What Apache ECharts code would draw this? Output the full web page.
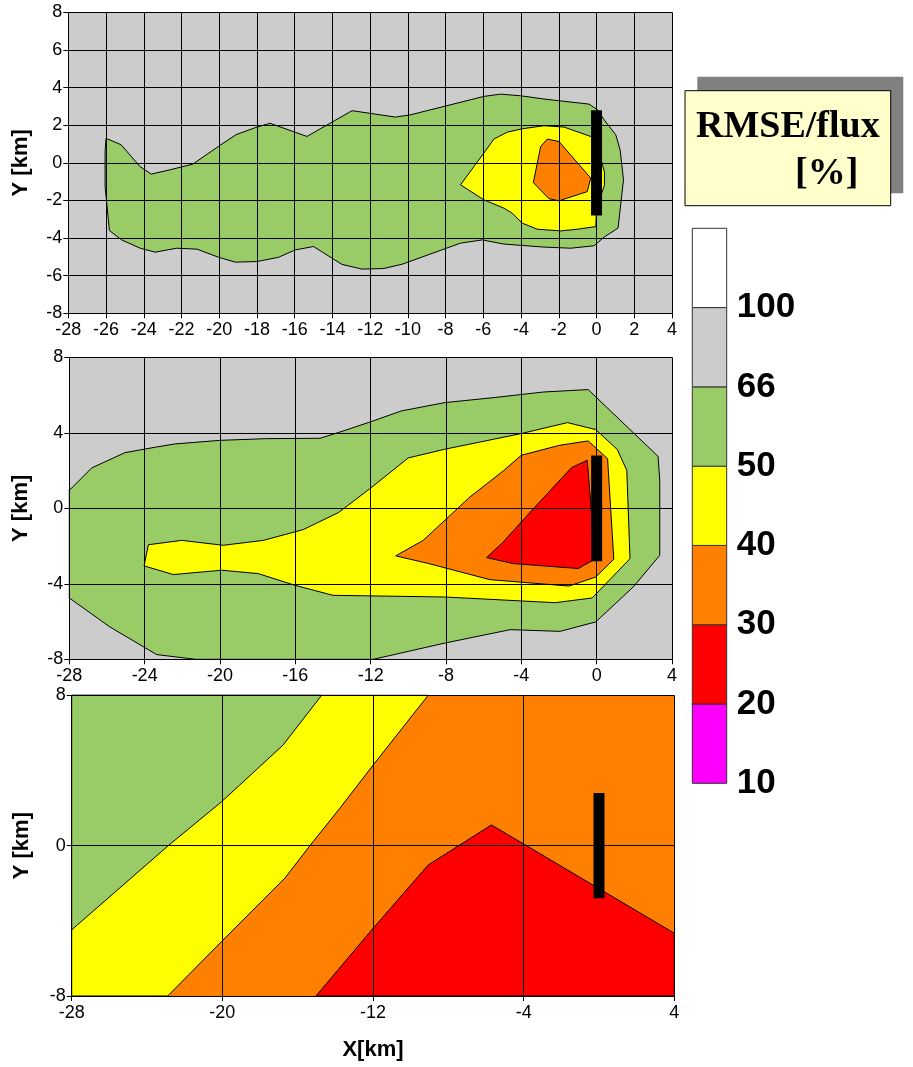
<!DOCTYPE html>
<html>
<head>
<meta charset="utf-8">
<script src="https://cdn.jsdelivr.net/npm/echarts@6/dist/echarts.min.js"></script>
<style>
html,body{margin:0;padding:0;background:#fff;}
#chart{width:913px;height:1067px;}
</style>
</head>
<body>
<div id="chart"></div>
<script>
// ---------- DATA ----------
// Panel 1 contour polygons (x km, y km)
const p1Green = [[-26.0,1.3],[-25.2,0.96],[-24.2,-0.2],[-23.6,-0.6],[-22.6,-0.37],[-21.4,-0.07],[-20.0,0.9],[-19.1,1.5],[-18.0,1.9],[-17.3,2.1],[-15.35,1.4],[-12.96,2.77],[-10.66,2.43],[-9.86,2.55],[-5.97,3.53],[-5.09,3.65],[-4.0,3.56],[-2.79,3.39],[-0.4,3.12],[0.05,2.82],[0.4,2.29],[1.02,1.49],[1.25,0.69],[1.43,-0.9],[1.14,-3.47],[0.4,-3.95],[-0.13,-4.41],[-1.37,-4.54],[-2.79,-4.48],[-4.91,-4.32],[-6.06,-4.1],[-7.21,-4.27],[-10.3,-5.39],[-11.28,-5.62],[-12.43,-5.65],[-13.5,-5.4],[-15.0,-4.45],[-15.97,-4.63],[-16.85,-5.02],[-18.0,-5.25],[-19.15,-5.28],[-20.04,-5.02],[-21.18,-4.59],[-22.25,-4.54],[-23.4,-4.75],[-24.19,-4.54],[-25.17,-4.1],[-25.82,-3.6],[-26.05,-1.26],[-26.05,0.6]];
const p1Yellow = [[-7.21,-1.17],[-6.5,-0.2],[-5.97,0.52],[-5.44,1.26],[-4.73,1.63],[-3.93,1.81],[-2.79,1.97],[-1.73,1.9],[-0.31,1.4],[0.05,0.9],[0.42,-0.5],[0.42,-1.2],[0.0,-2.4],[-0.04,-3.39],[-1.02,-3.53],[-1.9,-3.62],[-3.14,-3.53],[-3.93,-3.21],[-4.47,-2.68],[-4.91,-2.41],[-5.97,-1.97]];
const p1Orange = [[-2.61,1.26],[-1.99,1.13],[-0.31,-0.81],[-0.49,-1.53],[-1.99,-2.02],[-2.52,-1.91],[-3.35,-1.05],[-2.96,0.87]];

// Panel 2 contour polygons
const p2Green = [[-28,0.95],[-26.81,2.14],[-25.04,2.95],[-23.36,3.25],[-22.39,3.41],[-20,3.6],[-17.52,3.69],[-14.69,3.71],[-13.63,4.04],[-12.04,4.57],[-10.36,5.16],[-8.06,5.6],[-5.5,5.86],[-2.84,6.16],[-0.45,6.29],[3.26,2.75],[3.35,1.48],[3.35,-2.49],[1.94,-4.17],[-0.05,-6.02],[-1.94,-6.52],[-4.59,-6.43],[-8.06,-7.14],[-11.86,-8],[-21.3,-8],[-23.36,-7.75],[-25.84,-6.29],[-28,-4.75]];
const p2Yellow = [[-24.03,-3.05],[-23.8,-1.93],[-22.03,-1.7],[-19.83,-1.96],[-17.7,-1.7],[-15.58,-1.13],[-13.7,-0.22],[-12.04,1.04],[-10.0,2.67],[-8.06,3.13],[-4.0,3.96],[-1.55,4.54],[-0.05,4.17],[1.1,3.11],[1.6,2.01],[1.77,-2.67],[-0.24,-4.75],[-2.2,-5.0],[-8.06,-4.7],[-14.0,-4.61],[-16.02,-4.08],[-17.97,-3.46],[-19.91,-3.28],[-22.48,-3.51]];
const p2Orange = [[-10.67,-2.52],[-9.21,-1.7],[-6.73,0.6],[-4.96,1.98],[-4.0,2.81],[-1.96,3.34],[-0.45,3.57],[0.58,2.63],[0.91,-2.7],[-0.05,-3.64],[-1.47,-4.12],[-5.67,-3.78],[-8.91,-2.93]];
const p2Red = [[-5.84,-2.61],[-4.96,-1.78],[-3.36,-0.02],[-1.33,2.16],[-0.5,2.54],[-0.27,-0.28],[-0.19,-2.75],[-0.98,-3.19],[-4.43,-2.93]];

// Panel 3 contour polygons
const p3Yellow = [[-28,8],[-9.07,8],[-11.99,4.29],[-13.76,1.99],[-15.35,0],[-16.68,-1.73],[-20.04,-5.1],[-22.9,-8],[-28,-8]];
const p3Green = [[-28,8],[-14.73,8],[-16.77,5.36],[-19.07,3.23],[-20.04,2.34],[-22.87,0],[-28,-4.48]];
const p3Red = [[-15.03,-8],[-11.99,-4.39],[-9.07,-1.03],[-5.71,1.1],[-3.97,0.07],[4,-4.66],[4,-8]];

// Sensor bar (x, yBottom, yTop)
const sensorBar = [[0,-2.8,2.8]];

// Axis ranges / tick intervals per panel
const xRange = [-28, 4];
const yRange = [-8, 8];
const panelIntervals = [[2,2],[4,4],[8,8]];

// Colour levels (legend)
const legendLabels = ['10','20','30','40','50','66','100'];
const legendColors = ['#FF00FF','#FF0000','#FF8000','#FFFF00','#99CC66','#CCCCCC','#FFFFFF'];
const levelColor = {green:'#99CC66', yellow:'#FFFF00', orange:'#FF8000', red:'#FF0000', grey:'#CCCCCC'};

const titleLines = ['RMSE/flux','[%]'];
const xName = 'X[km]';
const yName = 'Y [km]';

// ---------- CHART ----------
const chart = echarts.init(document.getElementById('chart'), null, {renderer:'canvas'});

const grids = [
  {left:68.3, top:12.3, width:603.7, height:301, show:true, backgroundColor:levelColor.grey, borderWidth:0},
  {left:69.3, top:357.3, width:602.7, height:302, show:true, backgroundColor:levelColor.grey, borderWidth:0},
  {left:71.7, top:695.3, width:602.6, height:300.7, show:true, backgroundColor:levelColor.orange, borderWidth:0},
  {left:692.3, top:228.3, width:34.4, height:555}
];
const tickFont = {color:'#000', fontSize:18, fontFamily:'Liberation Sans, Arial, sans-serif'};
const nameFont = {color:'#000', fontSize:22, fontWeight:'bold', fontFamily:'Liberation Sans, Arial, sans-serif'};
const yGaps = [36, 37, 39];

const xAxes = [], yAxes = [];
for (let i=0;i<3;i++){
  xAxes.push({
    gridIndex:i, type:'value', min:xRange[0], max:xRange[1], interval:panelIntervals[i][0], z:5,
    axisLine:{show:true, onZero:false, lineStyle:{color:'#000', width:1}},
    axisTick:{show:true, length:5, lineStyle:{color:'#000'}},
    axisLabel:Object.assign({margin:8}, tickFont),
    splitLine:{show:true, showMinLine:true, showMaxLine:true, lineStyle:{color:'#000', width:1}},
    name: i===2 ? xName : '', nameLocation:'middle', nameGap:43, nameTextStyle:nameFont
  });
  yAxes.push({
    gridIndex:i, type:'value', min:yRange[0], max:yRange[1], interval:panelIntervals[i][1], z:5,
    axisLine:{show:true, onZero:false, lineStyle:{color:'#000', width:1}},
    axisTick:{show:true, length:5, lineStyle:{color:'#000'}},
    axisLabel:Object.assign({margin:6}, tickFont),
    splitLine:{show:true, showMinLine:true, showMaxLine:true, lineStyle:{color:'#000', width:1}},
    name:yName, nameLocation:'middle', nameRotate:90, nameGap:yGaps[i], nameTextStyle:nameFont
  });
}
// legend colour bar axes
xAxes.push({gridIndex:3, type:'value', min:0, max:1, show:false});
yAxes.push({gridIndex:3, type:'value', min:0, max:legendLabels.length, interval:1, position:'right',
  axisLine:{show:false}, axisTick:{show:false}, splitLine:{show:false},
  axisLabel:{margin:10, color:'#000', fontSize:35, fontWeight:'bold', fontFamily:'Liberation Sans, Arial, sans-serif',
    formatter:(v)=> legendLabels[v] !== undefined ? legendLabels[v] : ''}
});

function polygonSeries(idx, polys, colors){
  return {
    type:'custom', xAxisIndex:idx, yAxisIndex:idx, z:2, silent:true,
    data: polys.map((p,k)=>k),
    renderItem:(params, api)=>{
      const k = params.dataIndex;
      const pts = polys[k].map(pt => api.coord(pt));
      return {type:'polygon', shape:{points:pts}, style:{fill:colors[k], stroke:'#000', lineWidth:1}};
    }
  };
}
function barSeries(idx){
  return {
    type:'custom', xAxisIndex:idx, yAxisIndex:idx, z:10, silent:true,
    data: sensorBar,
    renderItem:(params, api)=>{
      const top = api.coord([api.value(0), api.value(2)]);
      const bot = api.coord([api.value(0), api.value(1)]);
      const w = 11;
      return {type:'rect', shape:{x:top[0]-w/2, y:top[1], width:w, height:bot[1]-top[1]}, style:{fill:'#000'}};
    }
  };
}

const series = [
  polygonSeries(0, [p1Green, p1Yellow, p1Orange], [levelColor.green, levelColor.yellow, levelColor.orange]),
  barSeries(0),
  polygonSeries(1, [p2Green, p2Yellow, p2Orange, p2Red], [levelColor.green, levelColor.yellow, levelColor.orange, levelColor.red]),
  barSeries(1),
  polygonSeries(2, [p3Yellow, p3Green, p3Red], [levelColor.yellow, levelColor.green, levelColor.red]),
  barSeries(2),
  {
    type:'custom', xAxisIndex:3, yAxisIndex:3, silent:true,
    data: legendColors.map((c,i)=>i),
    renderItem:(params, api)=>{
      const i = params.dataIndex;
      const a = api.coord([0, i]);
      const b = api.coord([1, i+1]);
      return {type:'rect', shape:{x:a[0], y:b[1], width:b[0]-a[0], height:a[1]-b[1]},
        style:{fill:legendColors[i], stroke:'#333', lineWidth:1}};
    }
  }
];

const titleFont = 'bold 38px "Liberation Serif", "Times New Roman", serif';
const option = {
  animation:false,
  backgroundColor:'#ffffff',
  grid:grids,
  xAxis:xAxes,
  yAxis:yAxes,
  series:series,
  graphic:[
    {type:'rect', x:697.3, y:76.7, shape:{width:206, height:116.6}, style:{fill:'#808080'}, z:100},
    {type:'rect', x:685, y:90.7, shape:{width:205.7, height:115}, style:{fill:'#FFFFCC', stroke:'#000', lineWidth:1}, z:101},
    {type:'text', x:696, y:127, z:102, style:{text:titleLines[0], font:titleFont, fill:'#000', align:'left', verticalAlign:'middle', textAlign:'left', textVerticalAlign:'middle'}},
    {type:'text', x:795, y:174, z:102, style:{text:titleLines[1], font:titleFont, fill:'#000', align:'left', verticalAlign:'middle', textAlign:'left', textVerticalAlign:'middle'}}
  ]
};
chart.setOption(option);
</script>
</body>
</html>
